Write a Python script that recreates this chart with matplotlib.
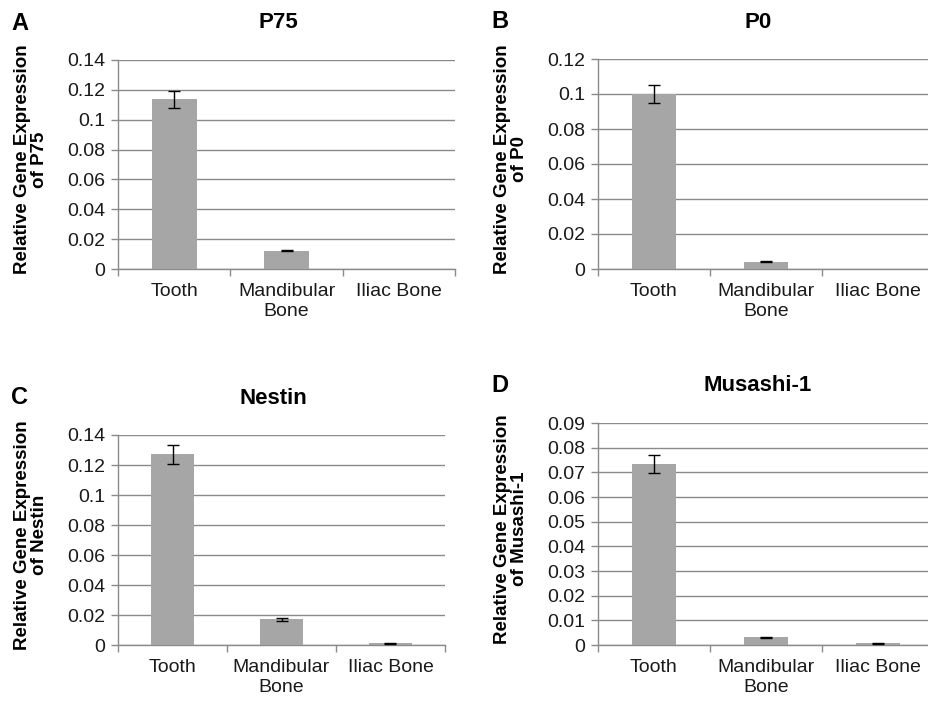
import matplotlib.pyplot as plt
import numpy as np

plt.rcParams['font.family'] = ['Liberation Sans', 'DejaVu Sans']

tissues = ['Tooth', 'Mandibular\nBone', 'Iliac Bone']

p75_vals = [0.1137, 0.0123, 0.0]
p75_err = [0.0056, 0.0003, 0.0]
p0_vals = [0.1000, 0.0042, 0.0]
p0_err = [0.0050, 0.0001, 0.0]
nestin_vals = [0.1271, 0.0171, 0.0011]
nestin_err = [0.0063, 0.0011, 0.0002]
musashi_vals = [0.0734, 0.0031, 0.0007]
musashi_err = [0.0035, 0.0002, 0.0001]

panels = [
    # letter, gene, values, errors, ymax, ystep, axes rect (px: left, right, top, bottom)
    ('A', 'P75', p75_vals, p75_err, 0.14, 0.02, (118, 455, 60, 269)),
    ('B', 'P0', p0_vals, p0_err, 0.12, 0.02, (598, 934, 59, 269)),
    ('C', 'Nestin', nestin_vals, nestin_err, 0.14, 0.02, (118, 445, 435, 645)),
    ('D', 'Musashi-1', musashi_vals, musashi_err, 0.09, 0.01, (598, 934, 423, 645)),
]

W, H = 929, 703
fig = plt.figure(figsize=(W / 100, H / 100), dpi=100)

bar_col = '#a6a6a6'
grid_col = '#8a8a8a'
txt_col = '#1a1a1a'

for letter, gene, vals, errs, ymax, ystep, (l, r, t, b) in panels:
    ax = fig.add_axes([l / W, 1 - b / H, (r - l) / W, (b - t) / H])
    x = np.arange(len(tissues))
    vals = np.array(vals)
    errs = np.array(errs)
    ax.bar(x, vals, width=0.4, color=bar_col, zorder=3)
    m = errs > 0
    ax.errorbar(x[m], vals[m], yerr=errs[m], fmt='none', ecolor='black',
                elinewidth=1, capsize=4, capthick=1, zorder=4)
    ax.set_xlim(-0.5, len(tissues) - 0.5)
    ax.set_ylim(0, ymax)
    yt = np.round(np.arange(0, ymax + ystep / 2, ystep), 3)
    ax.set_yticks(yt)
    ax.set_yticklabels(['0' if v == 0 else ('%g' % v) for v in yt])
    ax.set_xticks(x)
    ax.set_xticklabels(tissues, linespacing=1.25)
    ax.set_xticks(np.arange(-0.5, len(tissues)), minor=True)
    ax.tick_params(axis='x', which='major', length=0, pad=10, labelsize=14,
                   colors=txt_col)
    ax.tick_params(axis='x', which='minor', length=5, width=1, color=grid_col)
    ax.tick_params(axis='y', length=5, width=1, color=grid_col, pad=4,
                   labelsize=14, labelcolor=txt_col)
    ax.yaxis.grid(True, color=grid_col, linewidth=1, zorder=0)
    ax.set_axisbelow(True)
    for s in ['top', 'right']:
        ax.spines[s].set_visible(False)
    for s in ['left', 'bottom']:
        ax.spines[s].set_color(grid_col)
        ax.spines[s].set_linewidth(1)

    cx = (l + r) / 2 - 8
    fig.text(cx / W, 1 - (t - 37) / H, gene, ha='center', va='center',
             fontsize=16, fontweight='bold')
    fig.text((l - 98) / W, 1 - (t - 37) / H, letter, ha='center', va='center',
             fontsize=17, fontweight='bold')
    fig.text((l - 87) / W, 1 - ((t + b) / 2 - 5) / H,
             'Relative Gene Expression\nof ' + gene, ha='center', va='center',
             rotation=90, fontsize=13.5, fontweight='bold', linespacing=1.05)

fig.savefig('out.png', dpi=100, facecolor='white')
